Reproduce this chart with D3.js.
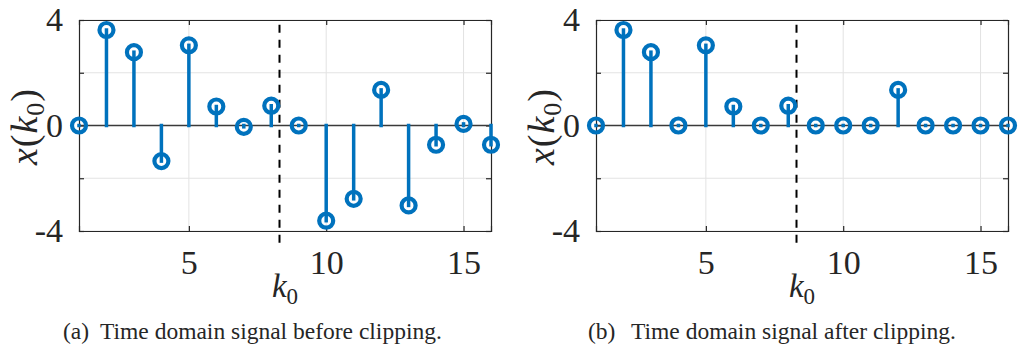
<!DOCTYPE html>
<html>
<head>
<meta charset="utf-8">
<script src="https://cdn.jsdelivr.net/npm/d3@7"></script>
<style>
  html, body { margin: 0; padding: 0; background: #fff; }
  svg { display: block; }
  text { font-family: "Liberation Serif", "Times New Roman", serif; fill: #262626; }
</style>
</head>
<body>
<svg id="chart" width="1024" height="351"></svg>
<script>
// Sample index
const k = [1, 2, 3, 4, 5, 6, 7, 8, 9, 10, 11, 12, 13, 14, 15, 16];
// Time-domain signal before clipping
const before = [0, 3.62, 2.78, -1.35, 3.04, 0.72, -0.05, 0.75, 0, -3.61, -2.78, 1.35, -3.03, -0.73, 0.06, -0.73];
// Time-domain signal after clipping
const after = [0, 3.62, 2.78, 0, 3.04, 0.72, 0, 0.75, 0, 0, 0, 1.35, 0, 0, 0, 0];
// Axis ticks
const xTicks = [5, 10, 15];
const yTicks = [-4, -2, 0, 2, 4];
const yTickLabels = ["-4", "", "0", "", "4"];
// Position of the k0 marker
const k0 = 8.3;
const captionTags = ["(a)", "(b)"];
const captions = ["Time domain signal before clipping.", "Time domain signal after clipping."];

const svg = d3.select("#chart");
const blue = "#0072BD";
const axisColor = "#262626";
const serif = "'Liberation Serif', 'Times New Roman', serif";

function panel(values, left, right, tag, caption, tagX, captionX) {
  const x = d3.scaleLinear().domain([1, 16]).range([left, right]);
  const y = d3.scaleLinear().domain([-4, 4]).range([231, 20]);
  const g = svg.append("g");

  // grid
  g.append("g").selectAll("line").data(xTicks).join("line")
    .attr("x1", d => x(d)).attr("x2", d => x(d))
    .attr("y1", y(-4)).attr("y2", y(4))
    .attr("stroke", "#e3e3e3").attr("stroke-width", 1);
  g.append("g").selectAll("line").data(yTicks).join("line")
    .attr("x1", x(1)).attr("x2", x(16))
    .attr("y1", d => y(d)).attr("y2", d => y(d))
    .attr("stroke", "#e3e3e3").attr("stroke-width", 1);

  // axes with inward ticks on all four sides
  const fmt = d => yTickLabels[yTicks.indexOf(d)];
  const axB = g.append("g").attr("transform", `translate(0,${y(-4)})`)
    .call(d3.axisBottom(x).tickValues(xTicks).tickSize(-5).tickPadding(19).tickFormat(d3.format("d")));
  const axT = g.append("g").attr("transform", `translate(0,${y(4)})`)
    .call(d3.axisTop(x).tickValues(xTicks).tickSize(-5).tickFormat(""));
  const axL = g.append("g").attr("transform", `translate(${x(1)},0)`)
    .call(d3.axisLeft(y).tickValues(yTicks).tickSize(-5).tickPadding(16).tickFormat(fmt));
  const axR = g.append("g").attr("transform", `translate(${x(16)},0)`)
    .call(d3.axisRight(y).tickValues(yTicks).tickSize(-5).tickFormat(""));
  [axB, axT, axL, axR].forEach(a => {
    a.attr("font-family", serif).attr("font-size", 34);
    a.select(".domain").attr("stroke", axisColor).attr("stroke-width", 1.2);
    a.selectAll(".tick line").attr("stroke", axisColor).attr("stroke-width", 1.2);
    a.selectAll("text").style("font-family", serif)
      .style("font-size", "34px").attr("fill", axisColor);
  });
  axB.selectAll(".tick text").attr("dy", "0.71em");

  // stem baseline
  g.append("line")
    .attr("x1", x(1)).attr("x2", x(16))
    .attr("y1", y(0)).attr("y2", y(0))
    .attr("stroke", "#3a3a3a").attr("stroke-width", 1.6);

  // k0 marker
  g.append("line")
    .attr("x1", x(k0)).attr("x2", x(k0))
    .attr("y1", y(-4.45)).attr("y2", y(4))
    .attr("stroke", "#000").attr("stroke-width", 2)
    .attr("stroke-dasharray", "8,7");

  // stems
  const pts = k.map((kk, i) => ({ k: kk, v: values[i] }));
  g.append("g").selectAll("line").data(pts).join("line")
    .attr("x1", d => x(d.k)).attr("x2", d => x(d.k))
    .attr("y1", y(0)).attr("y2", d => y(d.v))
    .attr("stroke", blue).attr("stroke-width", 3.5)
    .attr("stroke-linecap", "square");
  g.append("g").selectAll("circle").data(pts).join("circle")
    .attr("cx", d => x(d.k)).attr("cy", d => y(d.v))
    .attr("r", 7).attr("fill", "none")
    .attr("stroke", blue).attr("stroke-width", 4.2);

  // axis labels
  const cx = (left + right) / 2;
  const xl = g.append("text").attr("x", cx).attr("y", 297)
    .attr("text-anchor", "middle").style("font-size", "33px");
  xl.append("tspan").style("font-style", "italic").text("k");
  xl.append("tspan").attr("dy", 7).style("font-size", "23px").text("0");

  const yl = g.append("text")
    .attr("transform", `translate(${left - 42},${y(0) + 1}) rotate(-90)`)
    .attr("text-anchor", "middle").style("font-size", "38px")
    .style("letter-spacing", "1px");
  yl.append("tspan").style("font-style", "italic").text("x");
  yl.append("tspan").text("(");
  yl.append("tspan").style("font-style", "italic").text("k");
  yl.append("tspan").attr("dy", 7).style("font-size", "26px").text("0");
  yl.append("tspan").attr("dy", -7).text(")");

  // caption
  g.append("text").attr("x", tagX).attr("y", 339).style("font-size", "23.5px").text(tag);
  g.append("text").attr("x", captionX).attr("y", 339).style("font-size", "23.5px").text(caption);
}

panel(before, 79, 491, captionTags[0], captions[0], 63, 100);
panel(after, 596, 1008, captionTags[1], captions[1], 588, 631);
</script>
</body>
</html>
